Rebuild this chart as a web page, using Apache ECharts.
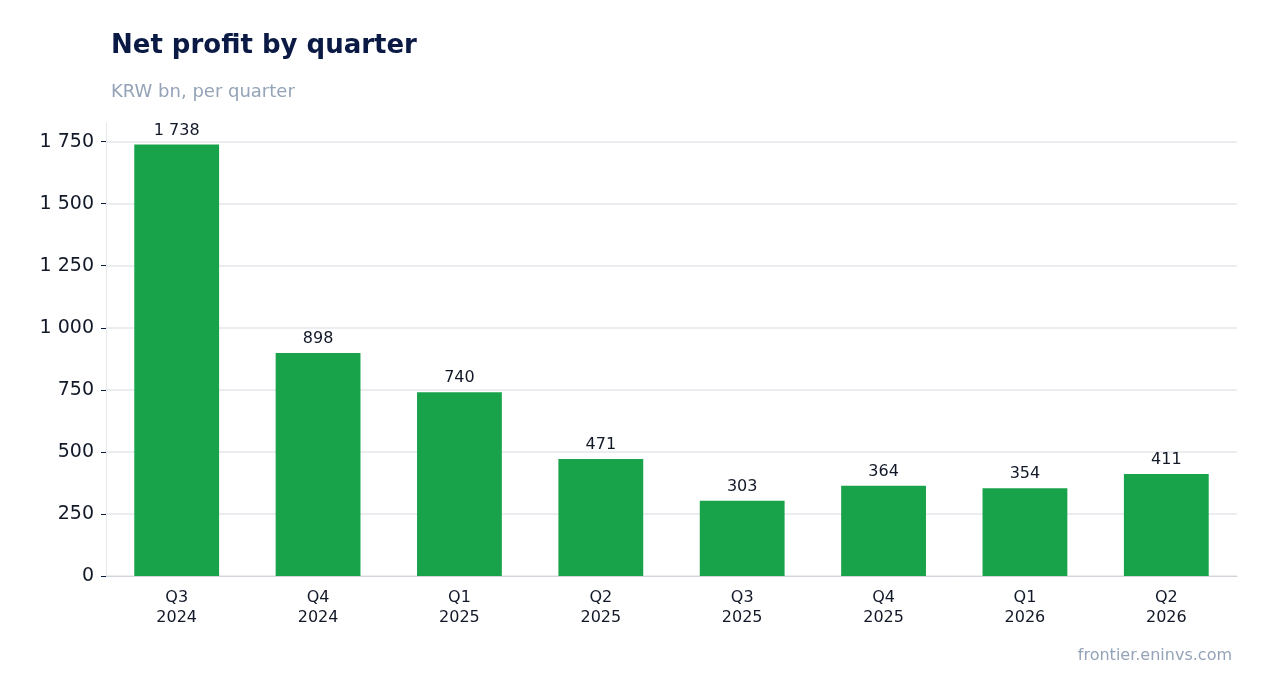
<!DOCTYPE html>
<html><head><meta charset="utf-8">
<script src="https://cdn.jsdelivr.net/npm/echarts@6/dist/echarts.min.js"></script>
<style>html,body{margin:0;padding:0;background:#fff}#c{width:1268px;height:693px}</style>
</head><body><div id="c"></div>
<script>
const categories = ['Q3\n2024','Q4\n2024','Q1\n2025','Q2\n2025','Q3\n2025','Q4\n2025','Q1\n2026','Q2\n2026'];
const netProfit = [1738, 898, 740, 471, 303, 364, 354, 411];
const fmt = v => String(v).replace(/\B(?=(\d{3})+(?!\d))/g, ' ');
const FF = 'DejaVu Sans';
const chart = echarts.init(document.getElementById('c'));
chart.setOption({
  animation: false,
  textStyle: { fontFamily: FF },
  title: [
    { text: 'Net profit by quarter', left: 106, top: 28, textStyle: { fontFamily: FF, fontSize: 26, fontWeight: 'bold', color: '#0b1a45' } },
    { text: 'KRW bn, per quarter', left: 106, top: 78, textStyle: { fontFamily: FF, fontSize: 18, fontWeight: 'normal', color: '#94a3b8' } },
    { text: 'frontier.eninvs.com', right: 31, top: 643, textStyle: { fontFamily: FF, fontSize: 16, fontWeight: 'normal', color: '#94a3b8' } }
  ],
  grid: { left: 106, right: 31, top: 123, bottom: 117 },
  xAxis: {
    type: 'category', data: categories,
    axisLine: { lineStyle: { color: '#d1d5db' } },
    axisTick: { alignWithLabel: true, lineStyle: { color: '#0b1a45' } },
    axisLabel: { color: '#111827', fontSize: 16, lineHeight: 20, margin: 12, fontFamily: FF }
  },
  yAxis: {
    type: 'value', min: 0, max: 1825, interval: 250,
    axisLine: { show: true, lineStyle: { color: '#e5e7eb' } },
    axisTick: { show: true, length: 5, lineStyle: { color: '#0b1a45' } },
    axisLabel: { color: '#111827', fontSize: 19, margin: 12, showMaxLabel: false, formatter: fmt, fontFamily: FF },
    splitLine: { show: true, showMaxLine: false, lineStyle: { color: '#e5e7eb', width: 1.5 } }
  },
  series: [{
    type: 'bar', data: netProfit, barWidth: '60%',
    itemStyle: { color: '#18a34a' },
    label: { show: true, position: 'top', color: '#111827', fontSize: 16, distance: 6, formatter: p => fmt(p.value), fontFamily: FF }
  }]
});
</script></body></html>
